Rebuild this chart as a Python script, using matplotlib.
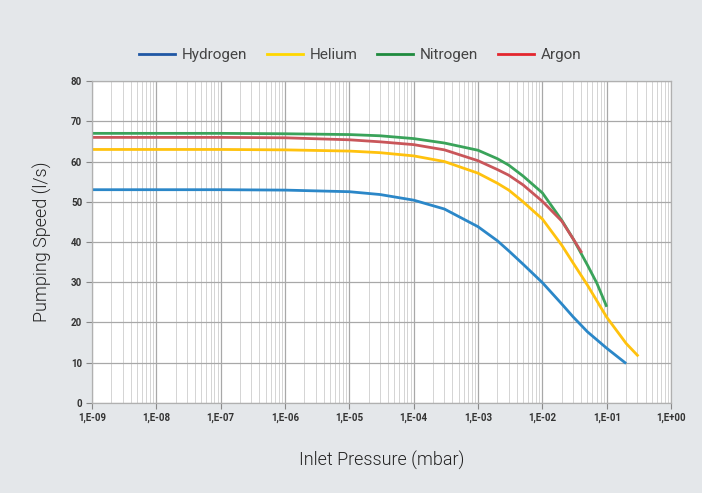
import math
import matplotlib.pyplot as plt
from matplotlib.lines import Line2D
from matplotlib.ticker import LogLocator, FixedLocator, FuncFormatter

plt.rcParams['font.family'] = ['Roboto', 'DejaVu Sans']

# pressure (mbar) and pumping speed (l/s)
p_h2 = [1e-9, 1e-8, 1e-7, 1e-6, 1e-5, 3e-5, 1e-4, 3e-4, 1e-3, 2e-3, 3e-3, 5e-3,
        1e-2, 2e-2, 3e-2, 5e-2, 1e-1, 2e-1]
s_h2 = [53.0, 53.0, 53.0, 52.9, 52.5, 51.8, 50.4, 48.2, 43.8, 40.3, 37.8, 34.5,
        29.9, 24.6, 21.4, 17.7, 13.6, 9.8]

p_he = [1e-9, 1e-8, 1e-7, 1e-6, 1e-5, 3e-5, 1e-4, 3e-4, 1e-3, 2e-3, 3e-3, 5e-3,
        1e-2, 2e-2, 3e-2, 5e-2, 1e-1, 2e-1, 3.1e-1]
s_he = [63.0, 63.0, 63.0, 62.9, 62.6, 62.2, 61.4, 60.0, 57.1, 54.6, 52.9, 50.0,
        45.7, 39.2, 34.8, 29.3, 21.3, 14.8, 11.6]

p_n2 = [1e-9, 1e-8, 1e-7, 1e-6, 1e-5, 3e-5, 1e-4, 3e-4, 1e-3, 2e-3, 3e-3, 5e-3,
        1e-2, 2e-2, 3e-2, 5e-2, 7e-2, 1e-1]
s_n2 = [67.0, 67.0, 67.0, 66.9, 66.7, 66.4, 65.7, 64.6, 62.8, 60.7, 59.1, 56.4,
        52.2, 45.4, 40.8, 34.3, 29.8, 23.9]

p_ar = [1e-9, 1e-8, 1e-7, 1e-6, 1e-5, 3e-5, 1e-4, 3e-4, 1e-3, 2e-3, 3e-3, 5e-3,
        1e-2, 2e-2, 3e-2, 4.1e-2]
s_ar = [66.0, 66.0, 66.0, 65.9, 65.4, 64.9, 64.2, 62.9, 60.2, 58.0, 56.6, 54.2,
        50.1, 45.2, 40.8, 37.3]

gases = ['Hydrogen', 'Helium', 'Nitrogen', 'Argon']
line_colors = ['#2b87c8', '#ffc20e', '#3aa35a', '#c9565a']
legend_colors = ['#1f57a4', '#ffd700', '#1e8a3e', '#e3262e']

fig = plt.figure(figsize=(7.02, 4.93), dpi=100)
fig.patch.set_facecolor('#e4e7ea')
ax = fig.add_axes([0.131, 0.1826, 0.825, 0.653])
ax.set_facecolor('white')

for p, s, c in zip([p_h2, p_he, p_n2, p_ar], [s_h2, s_he, s_n2, s_ar], line_colors):
    ax.plot(p, s, color=c, lw=2, solid_capstyle='butt', solid_joinstyle='round')

ax.set_xscale('log')
ax.set_xlim(1e-9, 1)
ax.set_ylim(0, 80)
ax.xaxis.set_major_locator(LogLocator(base=10, numticks=20))
ax.xaxis.set_minor_locator(LogLocator(base=10, subs=range(2, 10), numticks=20))
ax.xaxis.set_major_formatter(FuncFormatter(
    lambda v, pos: '1,E%+03d' % round(math.log10(v))))
ax.yaxis.set_major_locator(FixedLocator(range(0, 81, 10)))

ax.grid(True, which='major', color='#a8a8a8', lw=0.9)
ax.grid(True, which='minor', axis='x', color='#d4d4d4', lw=0.7)
ax.set_axisbelow(True)
for side in ax.spines:
    ax.spines[side].set_color('#b0b0b0')
    ax.spines[side].set_linewidth(0.9)

ax.tick_params(which='major', length=4, color='#888888', labelsize=7,
               labelcolor='#333333', pad=3)
ax.tick_params(which='minor', length=0)
for lab in ax.get_xticklabels() + ax.get_yticklabels():
    lab.set_fontweight('bold')

ax.set_xlabel('Inlet Pressure (mbar)', fontsize=13, color='#222222',
              fontweight=300, labelpad=20)
ax.set_ylabel('Pumping Speed (l/s)', fontsize=13, color='#222222',
              fontweight=300, labelpad=14)

handles = [Line2D([], [], color=c, lw=2) for c in legend_colors]
fig.legend(handles, gases, loc='center', bbox_to_anchor=(0.513, 0.888), ncol=4,
           frameon=False, fontsize=11, handlelength=2.35, columnspacing=1.3,
           handletextpad=0.45, labelcolor='#444444')

fig.savefig('out.png', dpi=100, facecolor=fig.get_facecolor())
